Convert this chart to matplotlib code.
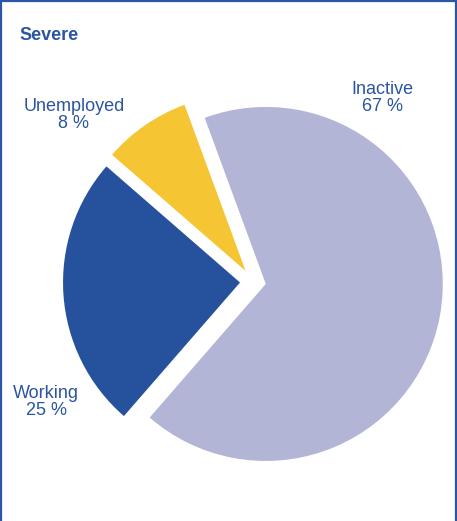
import matplotlib
matplotlib.use('Agg')
from matplotlib import pyplot as plt
from matplotlib.lines import Line2D

plt.rcParams['font.family'] = ['Liberation Sans', 'DejaVu Sans']

# shares of people with severe disability by activity status
labels = ['Inactive', 'Unemployed', 'Working']
shares = [67, 8, 25]
colors = ['#b3b5d7', '#f5c533', '#26519c']
text_blue = '#2b55a3'

W, H = 457, 521
fig = plt.figure(figsize=(W / 100, H / 100), dpi=100)
ax = fig.add_axes([0, 0, 1, 1])

# pie laid out in pixel units (y measured from the bottom);
# explode is an absolute offset in data units here
ax.pie(shares, colors=colors, startangle=-131, counterclock=True,
       explode=[13] * 3, center=(253, H - 281.6), radius=177,
       wedgeprops={'linewidth': 0})
ax.set_xlim(0, W)
ax.set_ylim(0, H)
ax.set_aspect('equal')
ax.axis('off')

# slice labels
label_pos = {'Inactive': (382, 98), 'Unemployed': (74, 115), 'Working': (46, 402)}
for lab, val in zip(labels, shares):
    x, y = label_pos[lab]
    ax.text(x, H - y, f'{lab}\n{val} %', ha='center', va='center',
            fontsize=13, color=text_blue, linespacing=1.0)

ax.text(19, H - 35, 'Severe', ha='left', va='center', fontsize=13,
        fontweight='bold', color=text_blue)

# frame on left, top and right
border = '#2a56a5'
fig.add_artist(Line2D([0.8 / W, 0.8 / W], [0, 1], color=border, lw=1.6))
fig.add_artist(Line2D([0, 1], [1 - 0.8 / H, 1 - 0.8 / H], color=border, lw=1.6))
fig.add_artist(Line2D([1 - 1.5 / W, 1 - 1.5 / W], [0, 1], color=border, lw=1.6))

fig.savefig('out.png', dpi=100)
